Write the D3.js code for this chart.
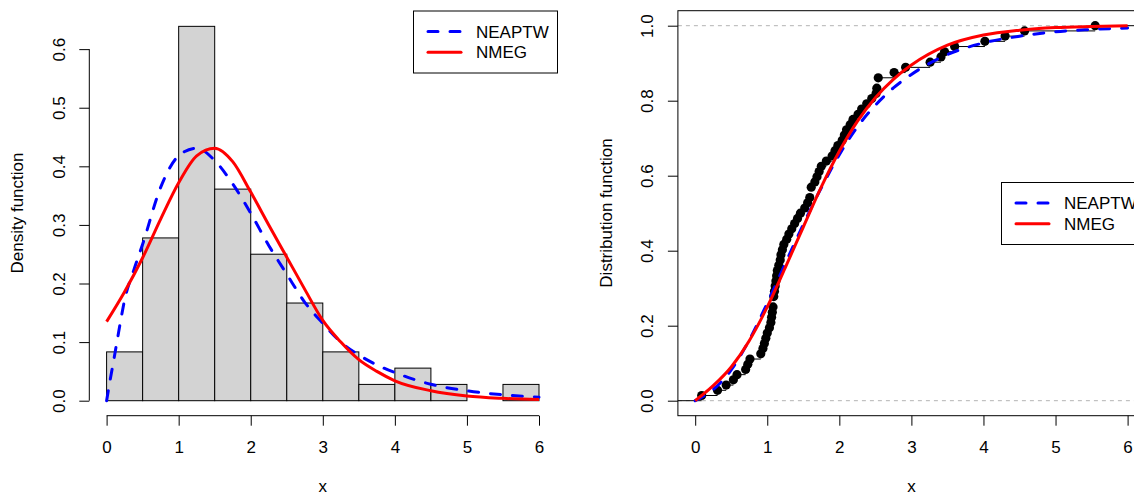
<!DOCTYPE html>
<html><head><meta charset="utf-8">
<script src="https://cdn.jsdelivr.net/npm/d3@7"></script>
<style>
body{margin:0;background:#fff;}
svg{display:block;}
</style></head><body>
<svg id="c" width="1134" height="494"></svg>
<script>
// ---------------- data ----------------
const histBreaks = [0,0.5,1,1.5,2,2.5,3,3.5,4,4.5,5,5.5,6];
const histDensity = [0.0833,0.2778,0.6389,0.3611,0.25,0.1667,0.0833,0.0278,0.0556,0.0278,0,0.0278];

const neaptwDensX = [0,0.05,0.1,0.15,0.2,0.25,0.375,0.5,0.75,1,1.25,1.5,1.75,2,2.25,2.5,2.75,3,3.25,3.5,3.75,4,4.5,5,5.5,6];
const neaptwDensY = [0,0.036,0.07,0.105,0.14,0.172,0.222,0.267,0.364,0.418,0.431,0.41,0.37,0.32,0.265,0.216,0.168,0.132,0.1,0.078,0.061,0.048,0.028,0.017,0.01,0.006];

const nmegDensX = [0,0.25,0.5,0.75,1,1.25,1.5,1.75,2,2.25,2.5,2.75,3,3.25,3.5,3.75,4,4.5,5,5.5,6];
const nmegDensY = [0.135,0.186,0.244,0.31,0.372,0.418,0.431,0.408,0.356,0.3,0.245,0.19,0.137,0.1,0.07,0.05,0.034,0.017,0.008,0.004,0.002];

const cdfX = [0,0.25,0.5,0.75,1,1.25,1.5,1.75,2,2.25,2.5,2.75,3,3.5,4,4.5,5,5.5,6];
const neaptwCdf = [0,0.03,0.082,0.162,0.26,0.366,0.47,0.568,0.656,0.73,0.788,0.834,0.87,0.923,0.954,0.972,0.984,0.99,0.994];
const nmegCdf   = [0,0.04,0.09,0.16,0.25,0.355,0.463,0.57,0.665,0.745,0.808,0.857,0.895,0.948,0.975,0.988,0.995,0.998,1.0];

const sample = [0.09,0.31,0.43,
 0.53,0.58,0.70,0.73,0.76,0.91,0.94,0.96,0.98,1.00,
 1.03,1.05,1.06,1.07,1.08,1.09,1.09,1.10,1.11,1.12,1.13,1.14,1.16,1.18,1.19,1.21,1.23,1.27,1.30,1.34,1.38,1.42,1.46,
 1.52,1.56,1.59,1.61,1.61,1.66,1.69,1.72,1.75,1.82,1.90,1.94,1.98,
 2.04,2.07,2.10,2.15,2.19,2.26,2.31,2.38,2.45,
 2.51,2.52,2.54,2.54,2.76,2.92,
 3.26,3.41,3.46,
 3.60,
 4.02,4.30,
 4.57,
 5.55];

const xTicks = [0,1,2,3,4,5,6];
const densTicks = [0,0.1,0.2,0.3,0.4,0.5,0.6];
const cdfTicks = [0,0.2,0.4,0.6,0.8,1.0];
const seriesNames = ["NEAPTW","NMEG"];
const seriesColors = ["#0000FF","#FF0000"];

// ---------------- layout ----------------
const FONT = '"Liberation Sans", Arial, Helvetica, sans-serif';
const FS = 17;
const svg = d3.select("#c").attr("font-family", FONT).attr("font-size", FS);
const plotTop = 10.7, plotBottom = 415.7;
const PL = {left: 89.3, right: 556.3};
const PR = {left: 677.9, right: 1144.9};
const dash = "10,12";

const xL = d3.scaleLinear().domain([-0.24, 6.24]).range([PL.left, PL.right]);
const yL = d3.scaleLinear().domain([-0.0256, 0.6656]).range([plotBottom, plotTop]);
const xR = d3.scaleLinear().domain([-0.24, 6.24]).range([PR.left, PR.right]);
const yR = d3.scaleLinear().domain([-0.04, 1.04]).range([plotBottom, plotTop]);

function xAxis(g, scale, withLine){
  g.attr("transform", `translate(0,${plotBottom})`)
   .call(d3.axisBottom(scale).tickValues(xTicks).tickSize(10).tickSizeOuter(0).tickPadding(15.5).tickFormat(d3.format("d")));
  g.attr("font-family", FONT).attr("font-size", FS);
  g.select(".domain").remove();
  g.selectAll(".tick text").attr("fill","#000");
  if (withLine) g.append("line").attr("x1", scale(xTicks[0])).attr("x2", scale(xTicks[xTicks.length-1]))
   .attr("y1",0).attr("y2",0).attr("stroke","#000");
}
function yAxis(g, scale, ticks, x, withLine){
  g.attr("transform", `translate(${x},0)`)
   .call(d3.axisLeft(scale).tickValues(ticks).tickSize(10).tickSizeOuter(0).tickFormat(d3.format(".1f")));
  g.attr("font-family", FONT).attr("font-size", FS);
  g.select(".domain").remove();
  g.selectAll(".tick text").attr("x", null).attr("dy","0.35em").attr("text-anchor","middle")
   .attr("fill","#000").attr("transform","translate(-30.5,0) rotate(-90)");
  if (withLine) g.append("line").attr("x1",0).attr("x2",0).attr("y1", scale(ticks[0])).attr("y2", scale(ticks[ticks.length-1])).attr("stroke","#000");
}
function legend(x, y){
  const g = svg.append("g").attr("transform", `translate(${x},${y})`);
  g.append("rect").attr("x",0.5).attr("y",0.5).attr("width",144).attr("height",62).attr("fill","#fff").attr("stroke","#000");
  seriesNames.forEach((n,i)=>{
    const ly = 21 + i*20.8;
    g.append("line").attr("x1",15).attr("x2",48).attr("y1",ly).attr("y2",ly)
     .attr("stroke",seriesColors[i]).attr("stroke-width",3)
     .attr("stroke-dasharray", i===0 ? dash : null).attr("stroke-linecap","round");
    g.append("text").attr("x",63).attr("y",ly).attr("dy","0.36em").text(n);
  });
}

// ---------------- left panel: histogram ----------------
const bins = histDensity.map((d,i)=>({x0:histBreaks[i], x1:histBreaks[i+1], d}));
svg.append("g").selectAll("rect").data(bins).join("rect")
  .attr("x", b=>xL(b.x0)).attr("width", b=>xL(b.x1)-xL(b.x0))
  .attr("y", b=>yL(b.d)).attr("height", b=>yL(0)-yL(b.d))
  .attr("fill","#D3D3D3").attr("stroke","#000").attr("stroke-width",1);

const lineL = d3.line().x(d=>xL(d[0])).y(d=>yL(d[1])).curve(d3.curveMonotoneX);
svg.append("path").attr("d", lineL(neaptwDensX.map((x,i)=>[x,neaptwDensY[i]])))
  .attr("fill","none").attr("stroke",seriesColors[0]).attr("stroke-width",3)
  .attr("stroke-dasharray",dash).attr("stroke-linecap","round");
svg.append("path").attr("d", lineL(nmegDensX.map((x,i)=>[x,nmegDensY[i]])))
  .attr("fill","none").attr("stroke",seriesColors[1]).attr("stroke-width",3);

xAxis(svg.append("g"), xL, true);
yAxis(svg.append("g"), yL, densTicks, PL.left, true);
svg.append("text").attr("x",(PL.left+PL.right)/2).attr("y",491.5).attr("text-anchor","middle").text("x");
svg.append("text").attr("transform","translate(17,213) rotate(-90)").attr("dy","0.35em").attr("text-anchor","middle").text("Density function");
legend(413, 10.5);

// ---------------- right panel: ECDF ----------------
const sorted = sample.slice().sort(d3.ascending);
const uniq = Array.from(new Set(sorted));
const ecdf = uniq.map(v=>({x:v, F:d3.bisectRight(sorted, v)/sorted.length}));

svg.append("g").selectAll("line").data([0,1]).join("line")
  .attr("x1",PR.left).attr("x2",PR.right).attr("y1",d=>yR(d)).attr("y2",d=>yR(d))
  .attr("stroke","#B3B3B3").attr("stroke-dasharray","4,4");

const segs = [{x0:-0.24, x1:ecdf[0].x, F:0}]
  .concat(ecdf.map((p,i)=>({x0:p.x, x1: i<ecdf.length-1 ? ecdf[i+1].x : 6.24, F:p.F})));
svg.append("g").selectAll("line").data(segs).join("line")
  .attr("x1",s=>xR(s.x0)).attr("x2",s=>xR(s.x1)).attr("y1",s=>yR(s.F)).attr("y2",s=>yR(s.F))
  .attr("stroke","#000").attr("stroke-width",1);
svg.append("g").selectAll("circle").data(ecdf).join("circle")
  .attr("cx",p=>xR(p.x)).attr("cy",p=>yR(p.F)).attr("r",4.6).attr("fill","#000");

const lineR = d3.line().x(d=>xR(d[0])).y(d=>yR(d[1])).curve(d3.curveMonotoneX);
svg.append("path").attr("d", lineR(cdfX.map((x,i)=>[x,neaptwCdf[i]])))
  .attr("fill","none").attr("stroke",seriesColors[0]).attr("stroke-width",3)
  .attr("stroke-dasharray",dash).attr("stroke-linecap","round");
svg.append("path").attr("d", lineR(cdfX.map((x,i)=>[x,nmegCdf[i]])))
  .attr("fill","none").attr("stroke",seriesColors[1]).attr("stroke-width",3);

svg.append("rect").attr("x",PR.left).attr("y",plotTop).attr("width",PR.right-PR.left).attr("height",plotBottom-plotTop)
  .attr("fill","none").attr("stroke","#000");
xAxis(svg.append("g"), xR, false);
yAxis(svg.append("g"), yR, cdfTicks, PR.left, false);
svg.append("text").attr("x",(PR.left+PR.right)/2).attr("y",491.5).attr("text-anchor","middle").text("x");
svg.append("text").attr("transform","translate(606.5,213) rotate(-90)").attr("dy","0.35em").attr("text-anchor","middle").text("Distribution function");
legend(1001, 182);
</script>
</body></html>
